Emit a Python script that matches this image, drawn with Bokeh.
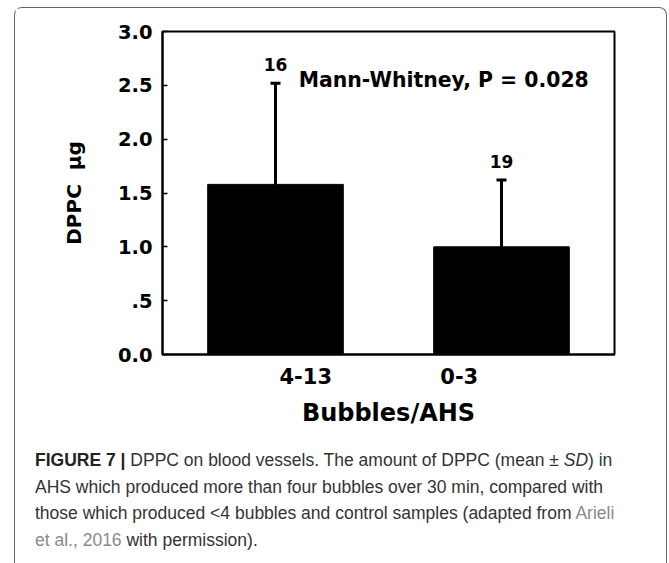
from bokeh.plotting import figure
from bokeh.layouts import column
from bokeh.models import (Range1d, FixedTicker, Whisker, TeeHead, ColumnDataSource,
                          Label, Div)
from bokeh.core.properties import value
from bokeh.embed import file_html
from bokeh.resources import INLINE

categories = ["4-13", "0-3"]
means = [1.58, 1.0]
sds = [0.94, 0.62]
counts = ["16", "19"]
y_ticks = [0, 0.5, 1.0, 1.5, 2.0, 2.5, 3.0]
y_tick_labels = ["0.0", ".5", "1.0", "1.5", "2.0", "2.5", "3.0"]
annotation = "Mann-Whitney, P = 0.028"
x_title = "Bubbles/AHS"
y_title = "DPPC \u00a0\u03bcg"

FONT = "DejaVu Sans"

# bar slots on a numeric axis (one unit per category)
xs = [i + 0.5 for i in range(len(categories))]
# the category labels in the original sit off-centre under the bars
label_shift = [0.134, -0.187]
label_pos = [x + d for x, d in zip(xs, label_shift)]

src = ColumnDataSource(dict(
    x=xs, mean=means,
    upper=[m + s for m, s in zip(means, sds)],
    n=counts,
))

FIG_W, FIG_H = 641, 432
p = figure(width=FIG_W, height=FIG_H, x_range=Range1d(0, len(categories)),
           y_range=Range1d(0, 3), output_backend="svg", toolbar_location=None,
           min_border_left=147, min_border_right=FIG_W - 147 - 452,
           min_border_top=23, min_border_bottom=FIG_H - 23 - 323)
p.background_fill_color = "white"
p.border_fill_color = "white"
p.grid.visible = False
p.outline_line_color = "black"
p.outline_line_width = 2

p.vbar(x="x", top="mean", bottom=0, width=0.6, source=src,
       fill_color="black", line_color="black")

p.add_layout(Whisker(source=src, base="x", lower="mean", upper="upper",
                     line_width=3, line_color="black",
                     upper_head=TeeHead(size=10, line_width=3, line_color="black"),
                     lower_head=None))

p.text(x="x", y="upper", text="n", source=src, y_offset=-19,
       text_align="center", text_baseline="alphabetic",
       text_font=value(FONT), text_font_style="bold", text_font_size="17px",
       text_color="black")

p.add_layout(Label(x=0.603, y=2.55, text=annotation, text_baseline="alphabetic",
                   text_font=FONT, text_font_style="bold", text_font_size="20.4px",
                   text_color="black"))

# y axis
p.yaxis.ticker = FixedTicker(ticks=y_ticks)
p.yaxis.major_label_overrides = {t: l for t, l in zip(y_ticks, y_tick_labels)}
p.yaxis.major_tick_in = 5
p.yaxis.major_tick_out = 0
p.yaxis.minor_tick_line_color = None
p.yaxis.major_tick_line_width = 1.5
p.yaxis.axis_line_width = 2
p.yaxis.major_label_text_font = FONT
p.yaxis.major_label_text_font_style = "bold"
p.yaxis.major_label_text_font_size = "19.5px"
p.yaxis.major_label_text_color = "black"
p.yaxis.major_label_standoff = 10
p.yaxis.axis_label = y_title
p.yaxis.axis_label_text_font = FONT
p.yaxis.axis_label_text_font_style = "bold"
p.yaxis.axis_label_text_font_size = "20px"
p.yaxis.axis_label_text_color = "black"
p.yaxis.axis_label_standoff = 29

# x axis
p.xaxis.ticker = FixedTicker(ticks=label_pos)
p.xaxis.major_label_overrides = {t: c for t, c in zip(label_pos, categories)}
p.xaxis.major_tick_line_color = None
p.xaxis.minor_tick_line_color = None
p.xaxis.axis_line_width = 2
p.xaxis.major_label_text_font = FONT
p.xaxis.major_label_text_font_style = "bold"
p.xaxis.major_label_text_font_size = "21px"
p.xaxis.major_label_text_color = "black"
p.xaxis.major_label_standoff = 7
p.xaxis.axis_label = x_title
p.xaxis.axis_label_text_font = FONT
p.xaxis.axis_label_text_font_style = "bold"
p.xaxis.axis_label_text_font_size = "24px"
p.xaxis.axis_label_text_color = "black"
p.xaxis.axis_label_standoff = 12

caption_html = (
    '<div style="font-family:\'Liberation Sans\',Arial,sans-serif;font-size:17.5px;'
    'line-height:26.7px;color:#333;padding:2px 0 0 15px;white-space:nowrap;">'
    '<b style="color:#222">FIGURE 7 |</b> DPPC on blood vessels. The amount of DPPC '
    '(mean \u00b1 <i>SD</i>) in<br>'
    'AHS which produced more than four bubbles over 30 min, compared with<br>'
    'those which produced &lt;4 bubbles and control samples (adapted from '
    '<span style="color:#8a8a8a">Arieli</span><br>'
    '<span style="color:#8a8a8a">et al., 2016</span> with permission).'
    '</div>'
)
cap = Div(text=caption_html, width=FIG_W, height=116)

layout = column(p, cap, margin=(7, 0, 0, 14),
                styles={"border": "1px solid #666", "border-bottom": "none",
                        "border-radius": "8px 8px 0 0", "background": "white"})

open("out.html", "w").write(file_html(layout, INLINE))
